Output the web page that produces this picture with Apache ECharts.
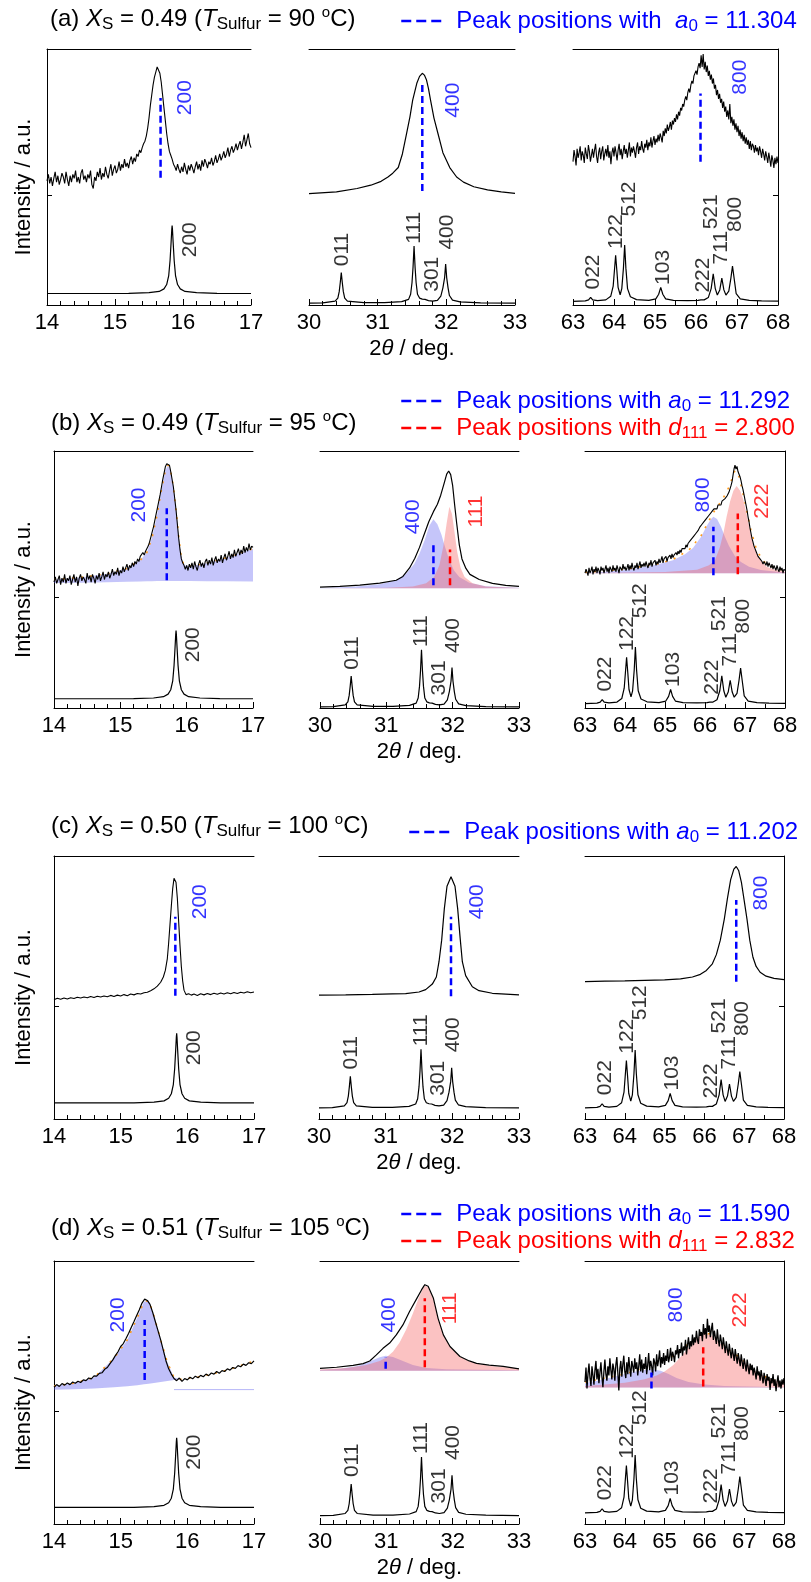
<!DOCTYPE html>
<html><head><meta charset="utf-8">
<script src="https://cdn.jsdelivr.net/npm/echarts@6/dist/echarts.min.js"></script>
<style>html,body{margin:0;padding:0;background:#fff}#c{width:811px;height:1582px}</style>
</head><body><div id="c"></div>
<script>
const FONT = '"Liberation Sans", Arial, Helvetica, sans-serif';
const BLUE = '#0000ff', RED = '#ff0000';

// ---------- axis ranges & tick labels ----------
const xRanges = [[14, 17], [30, 33], [63, 68]];
const tickLabelsLeft = [14, 15, 16, 17];
const tickLabelsMid = [30, 31, 32, 33];
const tickLabelsRight = [63, 64, 65, 66, 67, 68];

// ---------- panel texts ----------
const panelLetters = ['a', 'b', 'c', 'd'];
const xsValues = ['0.49', '0.49', '0.50', '0.51'];
const tSulfur = ['90', '95', '100', '105'];
const a0Values = ['11.304', '11.292', '11.202', '11.590'];
const d111Values = [null, '2.800', null, '2.832'];

// ---------- calculated reference patterns (height above their own baseline, % of plot height) ----------
const refLeft = [[14,0],[15.2,0.05],[15.5,0.3],[15.65,0.8],[15.72,1.8],[15.76,3.5],[15.79,7],[15.81,13],[15.825,20],[15.835,25],[15.84,26.5],[15.845,25],[15.855,20],[15.87,13],[15.89,7],[15.92,3.5],[15.96,1.8],[16.03,0.8],[16.2,0.3],[16.5,0.05],[17,0]];
const refMid = [[30,0],[30.2,0.1],[30.38,0.8],[30.42,2],[30.44,4.5],[30.455,8],[30.47,12],[30.485,8],[30.5,4.5],[30.52,2],[30.56,0.8],[30.8,0.2],[31.1,0.2],[31.35,0.6],[31.45,1.5],[31.48,3.5],[31.5,8],[31.515,14],[31.53,22.3],[31.545,14],[31.56,8],[31.58,3.5],[31.61,2],[31.65,1.6],[31.69,1.5],[31.74,1],[31.8,0.8],[31.87,1.1],[31.92,2.8],[31.95,6],[31.975,10],[31.99,15.3],[32.005,10],[32.025,6],[32.045,3],[32.09,1.2],[32.2,0.5],[32.5,0.15],[33,0]];
const refRight = [[63,0],[63.3,0.2],[63.38,0.6],[63.43,1.6],[63.48,0.6],[63.6,0.3],[63.8,0.6],[63.92,2],[63.98,6],[64.01,12],[64.04,18],[64.07,12],[64.1,5.5],[64.15,2.6],[64.19,5],[64.23,13],[64.26,22],[64.29,13],[64.33,5],[64.4,1.8],[64.55,0.7],[64.85,0.4],[65.02,1],[65.09,2.8],[65.14,5.5],[65.19,2.8],[65.26,1],[65.45,0.4],[65.8,0.3],[66.05,0.4],[66.12,0.6],[66.2,0.6],[66.3,1.5],[66.37,5],[66.42,10.8],[66.47,5],[66.52,2.5],[66.58,4.5],[66.63,9.1],[66.68,4.5],[66.73,2.5],[66.8,4],[66.85,9],[66.89,13.8],[66.93,9],[66.98,3],[67.08,1],[67.3,0.4],[67.6,0.2],[68,0.1]];
// baseline of the reference pattern in each panel (left, middle, right)
const refBase = [[4.5,0.7,1.4],[3.6,0.4,1.7],[6.1,4.2,4.2],[6.3,3.2,4.2]];
// reflection labels of the reference: [text, 2θ, height above baseline]
const refLabelsLeft = [['200',16.1,21]];
const refLabelsMid = [['011',30.48,21],['111',31.53,29.5],['301',31.79,11.3],['400',32.01,27.8]];
const refLabelsRight = [['022',63.5,11.5],['122',64.06,27.3],['512',64.38,40],['103',65.2,13.3],['222',66.18,10.3],['521',66.36,35],['711',66.62,21],['800',66.96,34]];

// ---------- measured scans ----------
const stepL = 0.04;                   // 2θ step of the coarser noisy scans
const stepFL = 0.02, stepFR = 0.025;  // 2θ step of the finer noisy scans
// (a)
const expAL = [48.5,51,47.5,50,46.5,49.5,52,48,50.5,47,
 49,51.5,50,47.5,52,49,46.5,50.5,48,51,
 49.5,52.5,48,50,47.5,51.5,53,49,50.5,48,
 51,49.5,52.5,47,45.5,50,48.5,52,50,53.5,
 49,51.5,50,54,51,49.5,52.5,55,50.5,53,
 54.5,51.5,53,56,52.5,55,53.5,57,54,55.5,
 53.5,56.5,58,55,57.5,56,59,58,60.5,59.5,
 61.5,63,64,66,69,73,78,82,86,89,
 91,93,92.5,90.5,87,82,77,72,67,63,
 60,58.5,57,55,54,52.5,55,53,51.5,54,
 52,55.5,53,51,54.5,52.5,55,53.5,51.5,54,
 56,53,55,52.5,56.5,54,57,55.5,53.5,56,
 55,57.5,54.5,56,58.5,55.5,57,59,56.5,58,
 60,57.5,59,61.5,58,60.5,62,59.5,61,63,
 60.5,62.5,64,61,63.5,66.5,62,64.5,67,63,
 61.5];
const expAM = [[30,43.5],[30.4,44.2],[30.7,45.5],[30.9,46.8],[31.05,48.3],[31.15,50],[31.22,51.5],[31.3,53.7],[31.36,59],[31.42,66.8],[31.47,73.5],[31.51,80],[31.57,86.6],[31.61,89.3],[31.65,90.5],[31.68,89.8],[31.71,88],[31.74,84.5],[31.77,80],[31.82,73],[31.88,66.8],[31.95,59.5],[32.05,53.7],[32.15,50],[32.25,48],[32.4,46.2],[32.6,45],[32.8,44.2],[33,43.6]];
const expAR = [56,60.5,58,54.5,61,57.5,59.5,62,56.5,60,
 58.5,55.5,61.5,59,57,62.5,60,56,58.5,61,
 57.5,60.5,63,58,55.5,59.5,61.5,57,60,62,
 56.5,59,61,58,62.5,57.5,60,55,59.5,61.5,
 58,62,59.5,56.5,60.5,63,58.5,61,57,60,
 62.5,59,61,57.5,60.5,63.5,58,61.5,59.5,62,
 60,57.5,61.5,63.5,59,62,60.5,64,61,59.5,
 63,61.5,64.5,60.5,63.5,62,65.5,61.5,64,66,
 62.5,65,63.5,66.5,64,67,65.5,63.5,68,66,
 69,67,70.5,68,69.5,71.5,68.5,72,70.5,73,
 71.5,74.5,72.5,75.5,74,77,76,78.5,77.5,80,
 81.5,80,83,84.5,83,86,87.5,86.5,89.5,90,
 91.5,90,93,94.5,92.5,97.5,93,98,92,95,
 91,93.5,89.5,91.5,88,90,86.5,88.5,84.5,86,
 82,84,80.5,82.5,79,80.5,77,79.5,75.5,77.5,
 73.5,76,72.5,78.5,71,73.5,70,72.5,68.5,71,
 67.5,70,66,68.5,65,67.5,64,66.5,63,65.5,
 62.5,64.5,61,64,60.5,63,62,59.5,62.5,60,
 61.5,58.5,62,60,57.5,61,59,56.5,60,58,
 55.5,59.5,57,54,58.5,56.5,53.5,57.5,55,58,
 55.5];
// (b)
const expBL = [49,51,48.5,50,51.5,48,50.5,49,52,48.5,
 50.5,49.5,51.5,48,50,52,49,51,47.5,50.5,
 52,49.5,51,50,48.5,52.5,50,51.5,49,52,
 50.5,48.5,51.5,50,52.5,49.5,51,53,50,52,
 51,53,50.5,52,54,51.5,53,52,54.5,51.5,
 53.5,52.5,55,53,54.5,56,53.5,55.5,54.5,56.5,
 55,57,56,58,57,59,58.5,60.5,59.5,61,
 61.5,63,64.5,66.5,68.5,70.5,73,75.5,78,80.5,
 83,86,89,91.5,94,95,95.5,94.5,92,89,
 86,81.5,77,71.5,66,61.5,58,56.5,55.5,54,
 55.5,53.5,56,54.5,56.5,54,57,55,53.5,56,
 57.5,55,56.5,54.5,57,58,55.5,57.5,56,58.5,
 55.5,57.5,59,56.5,58,57,59.5,56.5,58.5,60,
 57.5,59,61,58,60,58.5,61.5,59,60.5,62,
 59.5,61.5,60,63,60.5,62.5,61,64,61.5,63,
 62.5];
const fitBL_x = [14,14.4,14.8,15.1,15.3,15.4,15.48,15.55,15.62,15.68,15.72,15.76,15.8,15.84,15.88,15.92,15.96,16.05,16.3,16.6,17];
const fitBL_y = [50,50.8,52.2,54.3,57.5,60.5,66.5,74.5,85,92.5,94.5,92,86,77,66.5,58.5,55.5,55.2,56.3,58.5,62];
const bgBL_y = [48.6,48.7,48.9,49.1,49.2,49.3,49.3,49.4,49.4,49.4,49.4,49.4,49.4,49.4,49.4,49.4,49.4,49.4,49.3,49.3,49.2];
const expBM = [[30,47],[30.3,47.3],[30.6,47.8],[30.9,48.6],[31.15,49.7],[31.25,51.2],[31.35,54.5],[31.43,58.3],[31.5,62.5],[31.57,67.5],[31.64,72.5],[31.71,76.4],[31.77,79.3],[31.82,82.8],[31.87,87.3],[31.91,91],[31.94,92.2],[31.97,90.8],[32,86.5],[32.03,79],[32.06,72],[32.1,63.5],[32.14,58],[32.2,54.3],[32.26,52],[32.4,50],[32.6,48.5],[32.8,47.7],[33,47.3]];
const bgBM = 46.6;
const compBM_400 = [[30,46.7],[30.5,47.2],[30.9,48.2],[31.15,49.8],[31.3,52.3],[31.42,56],[31.5,60.1],[31.58,65.5],[31.65,71],[31.71,73.4],[31.77,71.5],[31.83,67.5],[31.88,63],[31.95,57.5],[32.02,53.5],[32.1,51],[32.25,48.7],[32.5,47.4],[33,46.8]];
const compBM_111 = [[30,46.6],[31,46.8],[31.4,47.3],[31.6,48.5],[31.72,51],[31.8,55.5],[31.86,63],[31.91,72],[31.95,78.3],[31.99,75.5],[32.03,68],[32.07,60.5],[32.12,54.5],[32.18,51],[32.3,48.5],[32.5,47.3],[33,46.7]];
const expBR = [52.5,54,53,51.5,54.5,52.5,53.5,55,52,54,
 53,55,52.5,54.5,53.5,52,55,53.5,54.5,52.5,
 54,55.5,53,54.5,52.5,55,54,53,55.5,53.5,
 54.5,53,55.5,54,52.5,55,54.5,53.5,56,54,
 55,53.5,54.5,56,53.5,55.5,54,56.5,54.5,53.5,
 55.5,54.5,56.5,54,55.5,57,54.5,56,55,56.5,
 55,57,55.5,54.5,56.5,55.5,57.5,55,56.5,56,
 57.5,55.5,57,56,58,56.5,57.5,59,56.5,58,
 57.5,59,57,58.5,58,59.5,58,60,58.5,59.5,
 59,60.5,59.5,61,60,61.5,60.5,62,61.5,62.5,
 62,63.5,62.5,64,63.5,65,64.5,66,65.5,67,
 66.5,68,67.5,69,68.5,70.5,70,71.5,71,72.5,
 72,73.5,73,74.5,74,75.5,75,76.5,76,77.5,
 77,78,77.5,79,78.5,79.5,79,80.5,80,81,
 81.5,81,82.5,83,84,84.5,86.5,88,90.5,93,
 94.5,93,94,92,91.5,90,88.5,86.5,85,83,
 81,79,77,74.5,72.5,70,68,66,64.5,63,
 62,61,60.5,59,58.5,58,57.5,57,56,57,
 56.5,55.5,57,55,56.5,55.5,54.5,56,54,55.5,
 54.5,53.5,55.5,54,53,55,53.5,54.5,52.5,54,
 53.5];
const fitBR = [[63,52.8],[64,54],[64.8,56],[65.2,57.8],[65.6,61.5],[65.9,67],[66.2,75.8],[66.45,81.5],[66.6,86],[66.75,92.5],[66.85,90],[67,80],[67.15,69],[67.3,61],[67.5,56.5],[67.75,54.5],[68,53.5]];
const bgBR = 52.4;
const compBR_800 = [[63,52.6],[63.5,53],[64,53.7],[64.4,54.7],[64.8,55.8],[65.2,57.5],[65.5,59.8],[65.7,62.3],[65.9,66.5],[66.05,71],[66.15,73.5],[66.21,74.4],[66.3,73.5],[66.4,70.5],[66.5,66.5],[66.6,63],[66.75,59],[66.9,56.8],[67.1,55],[67.4,53.7],[67.8,53],[68,52.8]];
const compBR_222 = [[63,52.5],[65,52.9],[65.8,53.8],[66.1,55.5],[66.25,57.5],[66.375,62.7],[66.46,68],[66.54,74.4],[66.63,80.5],[66.71,84.5],[66.79,86.4],[66.88,84.5],[66.96,80.9],[67.04,75.5],[67.125,69.2],[67.2,64],[67.29,60.1],[67.4,57.3],[67.54,55],[67.75,53.8],[68,53]];
// (c)
const expCL = [[14,45.3],[14.05,45.9],[14.1,45.5],[14.15,46],[14.2,45.6],[14.25,46.1],[14.3,45.8],[14.35,46.3],[14.4,46],[14.45,46.4],[14.5,46.1],[14.55,46.6],[14.6,46.2],[14.65,46.7],[14.7,46.4],[14.75,46.8],[14.8,46.5],[14.85,47],[14.9,46.6],[14.95,47.1],[15,46.8],[15.05,47.3],[15.1,46.9],[15.15,47.5],[15.2,47.2],[15.25,47.7],[15.3,47.5],[15.35,48],[15.4,48.2],[15.45,48.8],[15.5,49.5],[15.55,50.5],[15.6,52],[15.64,54],[15.67,56.5],[15.7,61],[15.72,67],[15.74,74],[15.76,81],[15.78,87.5],[15.8,91.5],[15.815,92.2],[15.83,90],[15.85,84],[15.87,75],[15.89,66],[15.91,58],[15.93,52.5],[15.95,49],[15.98,47.3],[16.02,47.6],[16.06,47.1],[16.1,47.5],[16.15,47],[16.2,47.6],[16.25,47.2],[16.3,47.7],[16.35,47.3],[16.4,47.8],[16.45,47.4],[16.5,47.9],[16.55,47.5],[16.6,48],[16.65,47.6],[16.7,48.1],[16.75,47.7],[16.8,48.2],[16.85,47.9],[16.9,48.4],[16.95,48],[17,48.3]];
const expCM = [[30,47.1],[30.4,47.2],[30.8,47.4],[31.1,47.6],[31.3,47.7],[31.5,48.3],[31.6,49.2],[31.7,51.3],[31.76,54],[31.8,59.8],[31.84,68],[31.88,80],[31.92,88.5],[31.98,92.1],[32.04,88.5],[32.08,80],[32.12,68],[32.15,59.8],[32.2,54.5],[32.3,50.3],[32.4,48.8],[32.6,47.8],[33,47.2]];
const expCR = [[63,52.2],[63.5,52.4],[64,52.5],[64.5,52.7],[65,52.9],[65.4,53.3],[65.7,54],[65.9,55],[66.05,56.5],[66.2,59],[66.3,62.5],[66.4,68],[66.5,76],[66.58,84],[66.66,91],[66.74,95],[66.8,96],[66.86,94.5],[66.93,90],[67,83],[67.07,76],[67.14,68],[67.22,61.5],[67.3,58],[67.4,55.8],[67.55,54.3],[67.75,53.5],[68,53]];
// (d)
const expDL = [52,53,52.3,53.4,52.8,53.6,53,54,53.5,54.3,53.8,54.8,54.5,55.5,55.2,56.3,56.2,57.3,57.5,58.8,59.5,61,62.3,64,65.5,67.5,68.6,70.5,72.5,74.8,77,79.3,81.5,84,85.5,85,83.5,80.5,77,73.5,70,66,62,59,57,55.3,54.5,55.5,54.2,55.3,54.8,55.8,55.2,56.2,55.6,56.5,56,57,56.4,57.4,57,58,57.3,58.3,58,59,58.5,59.5,59.2,60.2,59.8,60.8,60.3,61.3,61,62];
const fitDL_x = [14,14.3,14.6,14.9,15.1,15.25,15.35,15.42,15.5,15.6,15.7,15.8,15.9,16.2,16.6,17];
const fitDL_y = [52.5,53.5,55.7,63,70,78.5,84.5,85,79,70,61.5,55.7,55,56,58.5,62];
const bgDL_y = [51,51.2,51.5,52,52.4,52.8,53.1,53.3,53.6,54,54.4,54.8,55,56,58.5,62];
const bgDL_line = [[15.8,51.1],[17,51.1]];
const expDM = [[30,59.2],[30.25,59.6],[30.5,60.3],[30.65,61],[30.75,62],[30.85,64.3],[30.95,66.8],[31.05,68.8],[31.15,71.9],[31.25,75.7],[31.35,80.8],[31.46,85.8],[31.53,89],[31.58,91],[31.63,90.4],[31.71,85.8],[31.78,78.2],[31.86,71.9],[31.96,67.5],[32.11,63.7],[32.25,62],[32.36,61.1],[32.55,60.4],[32.76,59.9],[33,59]];
const bgDM = 58.3;
const compDM_400 = [[30,58.6],[30.3,59],[30.55,60],[30.75,61.8],[30.9,63.4],[30.99,64],[31.1,63.5],[31.25,62],[31.4,60.5],[31.6,59.3],[31.9,58.8],[33,58.5]];
const compDM_111 = [[30,58.7],[30.4,59.3],[30.7,60.5],[30.9,62],[31,63.3],[31.1,65.5],[31.2,69],[31.3,74],[31.4,80],[31.48,85.5],[31.54,89],[31.58,90.6],[31.63,90],[31.71,85.5],[31.78,78],[31.86,71.8],[31.96,67.4],[32.11,63.6],[32.25,61.8],[32.4,60.7],[32.6,60],[33,59.2]];
const expDR = [54,59.5,51.5,57,61,55.5,52.5,60,56.5,53,
 58.5,62,55,59,53.5,57.5,61.5,56,52,58,
 62.5,57,54.5,60,56.5,63,58.5,55,61,59,
 54.5,60.5,63.5,57.5,50.8,59,62,56,60.5,64,
 58,55.5,61.5,57,63.5,59.5,56,62,60,57.5,
 63,59,61.5,56.5,60,64.5,58,62.5,57.5,61,
 59,63.5,57,60.5,65,58.5,62,60,56.5,63,
 61.5,58,64.5,60,62.5,66,59.5,63.5,61,65,
 60.5,64,62,66.5,61.5,63.5,67,62,65.5,64,
 61.5,66,64.5,68,63,66.5,65,69,64,67.5,
 66,70,64.5,68,71,66.5,69.5,67.5,72,68,
 71,69,73.5,70,68.5,74,71.5,73,69.5,76,
 72,74.5,70.5,78,73,75.5,71,74,76.5,70,
 73.5,71,68.5,74,70,67.5,72,69.5,66.5,71,
 68,65,69.5,66.5,64,68.5,65.5,63,67,64.5,
 62,66.5,63.5,61,65,62.5,60,64.5,61.5,59,
 63,60.5,58,62.5,59.5,57,61,58.5,60.5,56.5,
 59.5,57.5,55,60,56.5,58,54.5,58.5,56,53.5,
 57.5,55,52.5,57,54.5,56,51,55.5,53.5,57,
 52.5,55,50.5,54,56.5,52,54.5,51.5,55,53,
 55.5];
const fitDR = [[63,54],[63.5,55.5],[64,57],[64.5,59.5],[64.8,61.3],[65,62.5],[65.22,64],[65.4,66],[65.6,68.5],[65.8,71],[66,72.8],[66.2,72],[66.4,69],[66.6,66.3],[66.89,63.4],[67.1,60.6],[67.3,58],[67.5,56.2],[67.72,54.8],[68,53.8]];
const bgDR = 51.9;
const compDR_800 = [[63,53.5],[63.4,54.8],[63.8,56.3],[64.2,57.8],[64.5,58.6],[64.7,58.8],[64.9,58.3],[65.1,57],[65.3,55.5],[65.6,54],[66,53],[66.5,52.5],[68,52]];
const compDR_222 = [[63,52.5],[63.5,53],[64,53.7],[64.5,55],[64.8,56.5],[65,58],[65.22,60.5],[65.4,63.5],[65.6,67],[65.8,70.3],[65.95,72.3],[66.05,72.6],[66.2,71.5],[66.4,68.5],[66.6,66],[66.89,63.2],[67.1,60.5],[67.3,58],[67.5,56.2],[67.72,54.8],[68,53.8]];

// ---------- peak-position markers: [subplot, 2θ, yFrom, yTo, colour] ----------
const markersA = [[0,15.67,49.7,80.9,'b'],[1,31.65,44.5,86,'b'],[2,66.11,56,82.6,'b']];
const markersB = [[0,15.70,49.7,77.7,'b'],[1,31.71,47.8,63.4,'b'],[1,31.96,47.8,61.7,'r'],[2,66.21,51.7,70.5,'b'],[2,66.82,52,75.7,'r']];
const markersC = [[0,15.82,46.9,76.9,'b'],[1,31.98,46.7,76.9,'b'],[2,66.8,52.2,83.3,'b']];
const markersD = [[0,15.36,54.8,77.6,'b'],[1,30.99,59,63.3,'b'],[1,31.58,59.6,85.8,'r'],[2,64.67,51.5,57.6,'b'],[2,65.97,52.3,67.2,'r']];
// ---------- labels of the measured peaks: [subplot, text, 2θ, y, colour] ----------
const expLabelsA = [[0,'200',16.03,81,'b'],[1,'400',32.1,80,'b'],[2,'800',67.08,89,'b']];
const expLabelsB = [[0,'200',15.29,79,'b'],[1,'400',31.41,74.4,'b'],[1,'111',32.36,76.4,'r'],[2,'800',65.96,82.9,'b'],[2,'222',67.42,80.5,'r']];
const expLabelsC = [[0,'200',16.19,82.6,'b'],[1,'400',32.37,82.6,'b'],[2,'800',67.43,85.9,'b']];
const expLabelsD = [[0,'200',14.96,79.5,'b'],[1,'400',31.05,79.5,'b'],[1,'111',31.96,82,'r'],[2,'800',65.3,83.3,'b'],[2,'222',66.89,81.4,'r']];

// ---------- layout (pixels) ----------
const layout = [
  {top:49,  h:256, lefts:[47,309,573], widths:[204,206,205], yGap:12, titleLeft:50, titleTop:5,   legLeft:400, legTop:9},
  {top:451, h:257, lefts:[54,320,585], widths:[199,199,200], yGap:19, titleLeft:51, titleTop:409, legLeft:400, legTop:389},
  {top:856, h:263, lefts:[54,319,585], widths:[200,200,199], yGap:19, titleLeft:51, titleTop:812, legLeft:408, legTop:820},
  {top:1261,h:263, lefts:[54,320,585], widths:[200,199,199], yGap:19, titleLeft:51, titleTop:1214,legLeft:400, legTop:1202}
];

// ---------- helpers ----------
function onStep(x0, dx, ys) { return ys.map((y, i) => [Math.round((x0 + i * dx) * 10000) / 10000, y]); }
function lift(arr, b) { return arr.map(p => [p[0], p[1] + b]); }
function zip(xs, ys) { return xs.map((x, i) => [x, ys[i]]); }

const grids = [], xAxes = [], yAxes = [], series = [];
const lineCol = {b: BLUE, r: RED};

const xNameRich = {
  n: {fontSize: 22, fontFamily: FONT, color: '#000'},
  i: {fontSize: 22, fontFamily: FONT, color: '#000', fontStyle: 'italic'}
};

function addGrid(p, c) {
  const L = layout[p];
  const g = p * 3 + c;
  grids.push({left: L.lefts[c], top: L.top, width: L.widths[c], height: L.h, containLabel: false});
  const [mn, mx] = xRanges[c];
  xAxes.push({
    type: 'value', gridIndex: g, min: mn, max: mx, interval: 1, position: 'bottom',
    axisLine: {show: true, onZero: false, lineStyle: {color: '#000', width: 1}},
    axisTick: {show: true, inside: true, length: 6, lineStyle: {color: '#000', width: 1}},
    minorTick: {show: true, splitNumber: c === 2 ? 2 : 5, length: 4, lineStyle: {color: '#000', width: 1}},
    axisLabel: {show: true, margin: 7, color: '#000', fontSize: 22, fontFamily: FONT},
    splitLine: {show: false}, minorSplitLine: {show: false},
    name: c === 1 ? '{n|2}{i|θ}{n| / deg.}' : '', nameLocation: 'middle', nameGap: 33,
    nameTextStyle: {rich: xNameRich}
  });
  xAxes.push({
    type: 'value', gridIndex: g, min: mn, max: mx, position: 'top',
    axisLine: {show: true, onZero: false, lineStyle: {color: '#000', width: 1}},
    axisTick: {show: false}, axisLabel: {show: false}, splitLine: {show: false}
  });
  yAxes.push({
    type: 'value', gridIndex: g, min: 0, max: 100, interval: 50, show: c !== 1,
    position: c === 2 ? 'right' : 'left',
    axisLine: {show: true, onZero: false, lineStyle: {color: '#000', width: 1}},
    axisTick: {show: true, inside: true, length: 5, customValues: [43], lineStyle: {color: '#000'}},
    axisLabel: {show: false}, splitLine: {show: false},
    name: c === 0 ? 'Intensity / a.u.' : '', nameLocation: 'middle', nameRotate: 90, nameGap: L.yGap,
    nameTextStyle: {fontSize: 22, fontFamily: FONT, color: '#000', padding: [0, 20, 0, 0]}
  });
}

function addLine(g, data, color, width, extra) {
  series.push(Object.assign({
    type: 'line', xAxisIndex: 2 * g, yAxisIndex: g, data: data, showSymbol: false, symbol: 'none',
    silent: true, animation: false, z: 3, lineStyle: {color: color, width: width}
  }, extra || {}));
}
function addBand(g, upper, lower, color) {
  // upper: [[x,y],...]; lower: number or array of y values at the same x
  series.push({
    type: 'custom', xAxisIndex: 2 * g, yAxisIndex: g, silent: true, animation: false, z: 1, clip: true,
    data: [[upper[0][0], upper[0][1]]],
    renderItem: function (params, api) {
      const pts = [];
      for (let i = 0; i < upper.length; i++) pts.push(api.coord([upper[i][0], upper[i][1]]));
      for (let i = upper.length - 1; i >= 0; i--) {
        const lo = Array.isArray(lower) ? lower[i] : lower;
        pts.push(api.coord([upper[i][0], lo]));
      }
      return {type: 'polygon', shape: {points: pts}, style: {fill: color}};
    }
  });
}
function addMarker(g, x, y1, y2, color, name) {
  series.push({
    type: 'line', name: name, xAxisIndex: 2 * g, yAxisIndex: g, data: [[x, y1], [x, y2]],
    symbol: 'none', showSymbol: false, silent: true, animation: false, z: 5,
    lineStyle: {color: color, width: 2.5, type: [7, 4]}, itemStyle: {color: color}
  });
}
function addLabels(g, list, color) {
  series.push({
    type: 'scatter', xAxisIndex: 2 * g, yAxisIndex: g, symbolSize: 1, silent: true, animation: false, z: 6,
    itemStyle: {color: 'rgba(0,0,0,0)'},
    data: list.map(l => ({name: l[0], value: [l[1], l[2]]})),
    label: {show: true, position: 'inside', rotate: 90, formatter: '{b}', color: color, fontSize: 21, fontFamily: FONT}
  });
}

for (let p = 0; p < 4; p++) for (let c = 0; c < 3; c++) addGrid(p, c);

// reference (calculated) patterns in every panel
const refSets = [refLeft, refMid, refRight];
const refLabelSets = [refLabelsLeft, refLabelsMid, refLabelsRight];
for (let p = 0; p < 4; p++) {
  for (let c = 0; c < 3; c++) {
    const g = p * 3 + c;
    addLine(g, lift(refSets[c], refBase[p][c]), '#000', 1.2);
    addLabels(g, refLabelSets[c].map(l => [l[0], l[1], l[2] + refBase[p][c]]), '#000');
  }
}

const BFILL = 'rgba(95,95,240,0.36)', RFILL = 'rgba(245,95,95,0.38)', ORANGE = '#ff9a1a';
const orangeDots = {z: 2, lineStyle: {color: ORANGE, width: 1.6, type: [2, 7]}};

// (a)
addLine(0, onStep(14, stepFL, expAL), '#000', 1.1);
addLine(1, expAM, '#000', 1.2);
addLine(2, onStep(63, stepFR, expAR), '#000', 1.1);
// (b)
addBand(3, zip(fitBL_x, fitBL_y), bgBL_y, BFILL);
addLine(3, zip(fitBL_x, fitBL_y), ORANGE, 1.6, orangeDots);
addLine(3, onStep(14, stepFL, expBL), '#000', 1.1);
addBand(4, compBM_400, bgBM, BFILL);
addBand(4, compBM_111, bgBM, RFILL);
addLine(4, expBM, '#000', 1.2);
addBand(5, compBR_800, bgBR, BFILL);
addBand(5, compBR_222, bgBR, RFILL);
addLine(5, fitBR, ORANGE, 1.6, orangeDots);
addLine(5, onStep(63, stepFR, expBR), '#000', 1.1);
// (c)
addLine(6, expCL, '#000', 1.1);
addLine(7, expCM, '#000', 1.2);
addLine(8, expCR, '#000', 1.2);
// (d)
addBand(9, zip(fitDL_x, fitDL_y), bgDL_y, 'rgba(95,95,240,0.4)');
addLine(9, bgDL_line, 'rgba(95,95,240,0.45)', 1);
addLine(9, zip(fitDL_x, fitDL_y), ORANGE, 1.6, orangeDots);
addLine(9, onStep(14, stepL, expDL), '#000', 1.2);
addBand(10, compDM_400, bgDM, BFILL);
addBand(10, compDM_111, bgDM, RFILL);
addLine(10, expDM, '#000', 1.2);
addBand(11, compDR_800, bgDR, BFILL);
addBand(11, compDR_222, bgDR, RFILL);
addLine(11, fitDR, ORANGE, 1.6, orangeDots);
addLine(11, onStep(63, stepFR, expDR), '#000', 1.3);

// markers & labels of measured peaks
const markerSets = [markersA, markersB, markersC, markersD];
const expLabelSets = [expLabelsA, expLabelsB, expLabelsC, expLabelsD];
for (let p = 0; p < 4; p++) {
  markerSets[p].forEach(m => addMarker(p * 3 + m[0], m[1], m[2], m[3], lineCol[m[4]], 'leg' + p + m[4]));
  [0, 1, 2].forEach(c => {
    ['b', 'r'].forEach(col => {
      const list = expLabelSets[p].filter(l => l[0] === c && l[4] === col).map(l => [l[1], l[2], l[3]]);
      if (list.length) addLabels(p * 3 + c, list, lineCol[col]);
    });
  });
}

// ---------- titles ----------
const titleRich = {
  n: {fontSize: 24, lineHeight: 28, color: '#000', fontFamily: FONT, fontWeight: 'normal'},
  i: {fontSize: 24, lineHeight: 28, color: '#000', fontFamily: FONT, fontStyle: 'italic', fontWeight: 'normal'},
  s: {fontSize: 17, lineHeight: 12, color: '#000', fontFamily: FONT, verticalAlign: 'bottom', fontWeight: 'normal'},
  p: {fontSize: 15, lineHeight: 12, color: '#000', fontFamily: FONT, verticalAlign: 'top', fontWeight: 'normal'}
};
const titles = layout.map((L, p) => ({
  text: '{n|(' + panelLetters[p] + ') }{i|X}{s|S}{n| = ' + xsValues[p] + ' (}{i|T}{s|Sulfur}{n| = ' + tSulfur[p] + ' }{p|o}{n|C)}',
  left: L.titleLeft, top: L.titleTop, padding: 0,
  textStyle: {fontWeight: 'normal', fontSize: 24, rich: titleRich}
}));

// ---------- legends ----------
const legRich = {
  g: {width: 10},
  tb: {fontSize: 24, lineHeight: 28, color: BLUE, fontFamily: FONT},
  ib: {fontSize: 24, lineHeight: 28, color: BLUE, fontFamily: FONT, fontStyle: 'italic'},
  sb: {fontSize: 17, lineHeight: 12, color: BLUE, fontFamily: FONT, verticalAlign: 'bottom'},
  tr: {fontSize: 24, lineHeight: 28, color: RED, fontFamily: FONT},
  ir: {fontSize: 24, lineHeight: 28, color: RED, fontFamily: FONT, fontStyle: 'italic'},
  sr: {fontSize: 17, lineHeight: 12, color: RED, fontFamily: FONT, verticalAlign: 'bottom'}
};
function legendText(name) {
  const p = +name.charAt(3), col = name.charAt(4);
  if (col === 'b') {
    const sp = p === 0 ? '  ' : ' ';
    return '{g| }{tb|Peak positions with' + sp + '}{ib|a}{sb|0}{tb| = ' + a0Values[p] + '}';
  }
  return '{g| }{tr|Peak positions with }{ir|d}{sr|111}{tr| = ' + d111Values[p] + '}';
}
const legends = layout.map((L, p) => {
  const names = ['leg' + p + 'b'];
  if (d111Values[p]) names.push('leg' + p + 'r');
  return {
    left: L.legLeft, top: L.legTop, orient: 'vertical', itemGap: 1, itemWidth: 40, itemHeight: 26,
    padding: 0, selectedMode: false, data: names, formatter: legendText,
    textStyle: {rich: legRich},
    itemStyle: {opacity: 0, borderWidth: 0},
    lineStyle: {type: [10, 5], width: 2.5}
  };
});

const chart = echarts.init(document.getElementById('c'), null, {renderer: 'canvas'});
chart.setOption({
  backgroundColor: '#fff',
  animation: false,
  textStyle: {fontFamily: FONT},
  title: titles,
  legend: legends,
  grid: grids,
  xAxis: xAxes,
  yAxis: yAxes,
  series: series
});
</script>
</body></html>
